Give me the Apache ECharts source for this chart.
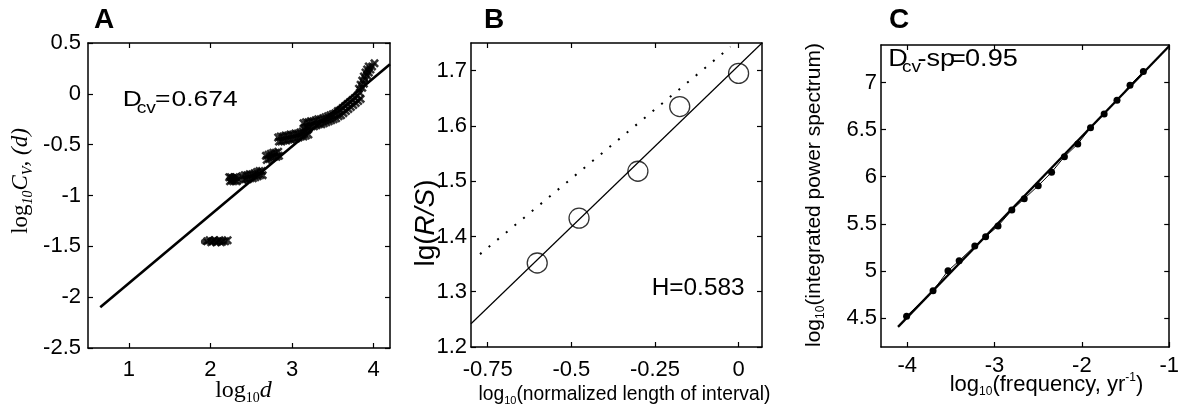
<!DOCTYPE html>
<html>
<head>
<meta charset="utf-8">
<script src="https://cdn.jsdelivr.net/npm/echarts@6/dist/echarts.min.js"></script>
<style>
html,body{margin:0;padding:0;background:#fff;}
#main{width:1182px;height:413px;}
</style>
</head>
<body>
<div id="main"></div>
<script>
// ---------- Panel A data ----------
const aXTicks = [1, 2, 3, 4];
const aYTicks = [-2.5, -2, -1.5, -1, -0.5, 0, 0.5];
const aDot = [[1.92, -1.455]];
const aPoints = [
  // cluster near log d = 2
  [1.96,-1.45],[1.99,-1.44],[2.01,-1.46],[2.03,-1.45],[2.05,-1.44],[2.07,-1.46],[2.09,-1.45],[2.11,-1.44],[2.13,-1.46],[2.15,-1.45],[2.18,-1.45],[2.21,-1.44],
  // cluster 2a
  [2.23,-0.82],[2.25,-0.82],[2.27,-0.83],[2.29,-0.82],[2.31,-0.82],[2.33,-0.83],
  [2.24,-0.86],[2.26,-0.85],[2.28,-0.86],[2.30,-0.85],[2.32,-0.86],
  // cluster 2b
  [2.39,-0.81],[2.42,-0.80],[2.45,-0.80],[2.48,-0.79],[2.51,-0.79],[2.54,-0.78],[2.57,-0.77],[2.60,-0.76],[2.63,-0.76],
  [2.40,-0.85],[2.43,-0.84],[2.46,-0.84],[2.49,-0.83],[2.52,-0.83],[2.55,-0.82],[2.58,-0.81],[2.61,-0.80],[2.64,-0.80],
  // cluster 3
  [2.68,-0.61],[2.71,-0.60],[2.74,-0.59],[2.77,-0.58],[2.80,-0.58],[2.83,-0.57],
  [2.69,-0.65],[2.72,-0.64],[2.75,-0.63],[2.78,-0.62],[2.81,-0.62],[2.84,-0.61],
  // cluster 4
  [2.83,-0.43],[2.86,-0.42],[2.89,-0.42],[2.92,-0.41],[2.95,-0.41],[2.98,-0.40],[3.01,-0.40],[3.04,-0.39],[3.07,-0.39],[3.10,-0.38],[3.13,-0.37],[3.16,-0.36],[3.19,-0.35],
  [2.84,-0.47],[2.87,-0.47],[2.90,-0.46],[2.93,-0.46],[2.96,-0.45],[2.99,-0.45],[3.02,-0.44],[3.05,-0.44],[3.08,-0.43],[3.11,-0.42],[3.14,-0.42],[3.17,-0.41],[3.20,-0.40],
  // cluster 5 (long band)
  [3.14,-0.29],[3.17,-0.28],[3.20,-0.28],[3.23,-0.27],[3.26,-0.27],[3.29,-0.26],[3.32,-0.25],[3.35,-0.25],[3.38,-0.24],[3.41,-0.23],[3.44,-0.22],[3.47,-0.21],
  [3.50,-0.20],[3.53,-0.19],[3.56,-0.17],[3.59,-0.16],[3.62,-0.14],[3.65,-0.12],[3.68,-0.10],[3.71,-0.08],[3.74,-0.06],[3.77,-0.04],[3.80,-0.02],[3.83,0.01],
  [3.15,-0.34],[3.18,-0.33],[3.21,-0.33],[3.24,-0.32],[3.27,-0.32],[3.30,-0.31],[3.33,-0.30],[3.36,-0.30],[3.39,-0.29],[3.42,-0.28],[3.45,-0.27],[3.48,-0.26],
  [3.51,-0.25],[3.54,-0.24],[3.57,-0.22],[3.60,-0.21],[3.63,-0.19],[3.66,-0.17],[3.69,-0.15],[3.72,-0.13],[3.75,-0.11],[3.78,-0.09],[3.81,-0.07],[3.84,-0.05],
  // top cluster
  [3.82,0.05],[3.84,0.09],[3.86,0.13],[3.88,0.17],[3.90,0.21],[3.92,0.24],[3.94,0.27],
  [3.86,0.06],[3.88,0.10],[3.90,0.14],[3.92,0.18],[3.94,0.21],[3.96,0.24],[3.98,0.27],[4.01,0.30]
];
const aFit = [[0.65, -2.10], [4.2, 0.29]];

// ---------- Panel B data ----------
const bXTicks = [-0.75, -0.5, -0.25, 0];
const bYTicks = [1.2, 1.3, 1.4, 1.5, 1.6, 1.7];
const bX = [-0.602, -0.477, -0.301, -0.176, 0.0];
const bY = [1.352, 1.433, 1.518, 1.635, 1.695];
const bFit = [[-0.80, 1.242], [0.07, 1.75]];
const bRef = [[-0.773, 1.368], [-0.024, 1.743]];

// ---------- Panel C data ----------
const cXTicks = [-4, -3, -2, -1];
const cYTicks = [4.5, 5, 5.5, 6, 6.5, 7];
const cX = [-4.007,-3.704,-3.533,-3.405,-3.226,-3.102,-2.960,-2.802,-2.660,-2.500,-2.347,-2.200,-2.047,-1.901,-1.745,-1.598,-1.449,-1.296];
const cY = [4.518,4.787,5.000,5.106,5.263,5.362,5.476,5.646,5.766,5.904,6.047,6.213,6.348,6.521,6.667,6.813,6.973,7.117];
const cFit = [[-4.105, 4.404], [-1.0, 7.39]];

const SANS = '"Liberation Sans", Arial, Helvetica, sans-serif';
const SERIF = '"Liberation Serif", "Times New Roman", serif';
const TICK_FONT = 22;

const grids = [
  {left: 88, top: 43, width: 302, height: 305},
  {left: 471, top: 43, width: 291, height: 304},
  {left: 881, top: 45, width: 300, height: 302}
];

function xAxes(gi, min, max, ticks, labelMargin) {
  const base = {
    gridIndex: gi, type: 'value', min: min, max: max, scale: true,
    axisLine: {show: true, onZero: false, lineStyle: {color: '#000', width: 1.5}},
    splitLine: {show: false}
  };
  return [
    Object.assign({}, base, {
      position: 'bottom',
      axisTick: {show: true, inside: true, length: 5, customValues: ticks, lineStyle: {color: '#000', width: 1.2}},
      axisLabel: {show: true, customValues: ticks, margin: labelMargin, color: '#000', fontSize: TICK_FONT, fontFamily: SANS,
        formatter: v => String(v)}
    }),
    Object.assign({}, base, {
      position: 'top',
      axisTick: {show: true, inside: true, length: 5, customValues: ticks, lineStyle: {color: '#000', width: 1.2}},
      axisLabel: {show: false}
    })
  ];
}
function yAxes(gi, min, max, ticks, labelMargin) {
  const base = {
    gridIndex: gi, type: 'value', min: min, max: max, scale: true,
    axisLine: {show: true, onZero: false, lineStyle: {color: '#000', width: 1.5}},
    splitLine: {show: false}
  };
  return [
    Object.assign({}, base, {
      position: 'left',
      axisTick: {show: true, inside: true, length: 5, customValues: ticks, lineStyle: {color: '#000', width: 1.2}},
      axisLabel: {show: true, customValues: ticks, margin: labelMargin, color: '#000', fontSize: TICK_FONT, fontFamily: SANS,
        formatter: v => String(v)}
    }),
    Object.assign({}, base, {
      position: 'right',
      axisTick: {show: true, inside: true, length: 5, customValues: ticks, lineStyle: {color: '#000', width: 1.2}},
      axisLabel: {show: false}
    })
  ];
}

const xAxis = [].concat(
  xAxes(0, 0.5, 4.2, aXTicks, 11),
  xAxes(1, -0.80, 0.07, bXTicks, 12),
  xAxes(2, -4.3, -1, cXTicks, 8)
);
const yAxis = [].concat(
  yAxes(0, -2.5, 0.5, aYTicks, 7),
  yAxes(1, 1.2, 1.75, bYTicks, 4),
  yAxes(2, 4.19, 7.4, cYTicks, 4)
);

const XMARK = 'path://M0,2L2,0L5,3L8,0L10,2L7,5L10,8L8,10L5,7L2,10L0,8L3,5Z';

const series = [
  // Panel A
  {type: 'line', xAxisIndex: 0, yAxisIndex: 0, data: aFit, symbol: 'none',
    lineStyle: {color: '#000', width: 2.6}, silent: true, z: 2},
  {type: 'scatter', xAxisIndex: 0, yAxisIndex: 0, data: aPoints, symbol: XMARK, symbolSize: 9,
    itemStyle: {color: '#000'}, silent: true, z: 3},
  {type: 'scatter', xAxisIndex: 0, yAxisIndex: 0, data: aDot, symbol: 'circle', symbolSize: 6,
    itemStyle: {color: '#000'}, silent: true, z: 3},
  // Panel B
  {type: 'line', xAxisIndex: 2, yAxisIndex: 2, data: bRef, symbol: 'none',
    lineStyle: {color: '#000', width: 2, type: [2, 9.2], cap: 'butt'}, silent: true, z: 2},
  {type: 'line', xAxisIndex: 2, yAxisIndex: 2, data: bFit, symbol: 'none',
    lineStyle: {color: '#000', width: 1.2}, silent: true, z: 2},
  {type: 'scatter', xAxisIndex: 2, yAxisIndex: 2, data: bX.map((x, i) => [x, bY[i]]), symbol: 'circle', symbolSize: 20,
    itemStyle: {color: 'rgba(0,0,0,0)', borderColor: '#000', borderWidth: 1.3}, silent: true, z: 3},
  // Panel C
  {type: 'line', xAxisIndex: 4, yAxisIndex: 4, data: cFit, symbol: 'none',
    lineStyle: {color: '#000', width: 2.3}, silent: true, z: 2},
  {type: 'line', xAxisIndex: 4, yAxisIndex: 4, data: cX.map((x, i) => [x, cY[i]]), symbol: 'circle', symbolSize: 7,
    showSymbol: true, itemStyle: {color: '#000'}, lineStyle: {color: '#000', width: 1}, silent: true, z: 3}
];

// ---------- text helpers (layout only) ----------
const mctx = document.createElement('canvas').getContext('2d');
function measure(text, font) { mctx.font = font; return mctx.measureText(text).width; }
function fnt(size, fam, style, weight) { return (style || 'normal') + ' ' + (weight || 'normal') + ' ' + size + 'px ' + fam; }

// segments: [{t, font, dy, x}] ; horizontal or rotated (bottom-to-top)
function seq(cx, cy, segs, opts) {
  opts = opts || {};
  const sx = opts.scaleX || 1;
  const widths = segs.map(s => measure(s.t, s.font) * sx);
  const total = widths.reduce((a, b) => a + b, 0);
  let along = opts.align === 'left' ? 0 : -total / 2;
  const out = [];
  segs.forEach((s, i) => {
    const dy = s.dy || 0;
    const el = {
      type: 'text', silent: true, z: 100,
      scaleX: sx, scaleY: 1,
      style: {text: s.t, font: s.font, fill: '#000', align: 'left', verticalAlign: 'middle',
        textAlign: 'left', textVerticalAlign: 'middle'}
    };
    if (opts.rotated) {
      el.x = cx + dy; el.y = cy - along; el.rotation = Math.PI / 2;
    } else {
      el.x = (s.x !== undefined ? s.x : cx + along); el.y = cy + dy;
    }
    out.push(el);
    along += widths[i];
  });
  return out;
}

const graphic = [].concat(
  // panel letters
  seq(104, 20, [{t: 'A', font: fnt(28, SANS, 'normal', 'bold')}]),
  seq(494, 20, [{t: 'B', font: fnt(28, SANS, 'normal', 'bold')}]),
  seq(899, 20, [{t: 'C', font: fnt(28, SANS, 'normal', 'bold')}]),
  // annotations
  seq(0, 99.5, [
    {t: 'D', font: fnt(22, SANS), x: 122.7},
    {t: 'cv', font: fnt(16, SANS), x: 136.7, dy: 9},
    {t: '=', font: fnt(22, SANS), x: 155},
    {t: '0.674', font: fnt(22, SANS), x: 171.5}
  ], {scaleX: 1.2}),
  seq(651.7, 288.5, [{t: 'H=0.583', font: fnt(23, SANS)}], {align: 'left', scaleX: 1.06}),
  seq(0, 60, [
    {t: 'D', font: fnt(23, SANS), x: 888.3},
    {t: 'cv', font: fnt(16, SANS), x: 902, dy: 8},
    {t: '-', font: fnt(23, SANS), x: 917.5},
    {t: 'sp', font: fnt(23, SANS), x: 926.5},
    {t: '=', font: fnt(23, SANS), x: 950},
    {t: '0.95', font: fnt(23, SANS), x: 965}
  ], {scaleX: 1.18}),
  // axis names
  seq(243.5, 391, [
    {t: 'log', font: fnt(24, SERIF)},
    {t: '10', font: fnt(14, SERIF), dy: 7},
    {t: 'd', font: fnt(24, SERIF, 'italic')}
  ]),
  seq(21, 181, [
    {t: 'log', font: fnt(23, SERIF)},
    {t: '10', font: fnt(14, SERIF, 'italic'), dy: 7},
    {t: 'C', font: fnt(23, SERIF, 'italic')},
    {t: 'V', font: fnt(14, SERIF, 'italic'), dy: 7},
    {t: ', (d)', font: fnt(23, SERIF, 'italic')}
  ], {rotated: true}),
  seq(624.4, 395, [
    {t: 'log', font: fnt(19.3, SANS)},
    {t: '10', font: fnt(11, SANS), dy: 6},
    {t: '(normalized length of interval)', font: fnt(19.3, SANS)}
  ]),
  seq(426, 223, [
    {t: 'lg(', font: fnt(28, SANS)},
    {t: 'R/S', font: fnt(28, SANS, 'italic')},
    {t: ')', font: fnt(28, SANS)}
  ], {rotated: true}),
  seq(1046.5, 385, [
    {t: 'log', font: fnt(22, SANS)},
    {t: '10', font: fnt(12, SANS), dy: 7},
    {t: '(frequency, yr', font: fnt(22, SANS)},
    {t: '-1', font: fnt(12, SANS), dy: -7},
    {t: ')', font: fnt(22, SANS)}
  ]),
  seq(814, 195, [
    {t: 'log', font: fnt(21, SANS)},
    {t: '10', font: fnt(12, SANS), dy: 7},
    {t: '(integrated power spectrum)', font: fnt(21, SANS)}
  ], {rotated: true})
);

const chart = echarts.init(document.getElementById('main'), null, {renderer: 'canvas'});
chart.setOption({
  animation: false,
  backgroundColor: '#fff',
  textStyle: {fontFamily: SANS, color: '#000'},
  grid: grids,
  xAxis: xAxis,
  yAxis: yAxis,
  series: series,
  graphic: graphic
});
</script>
</body>
</html>
